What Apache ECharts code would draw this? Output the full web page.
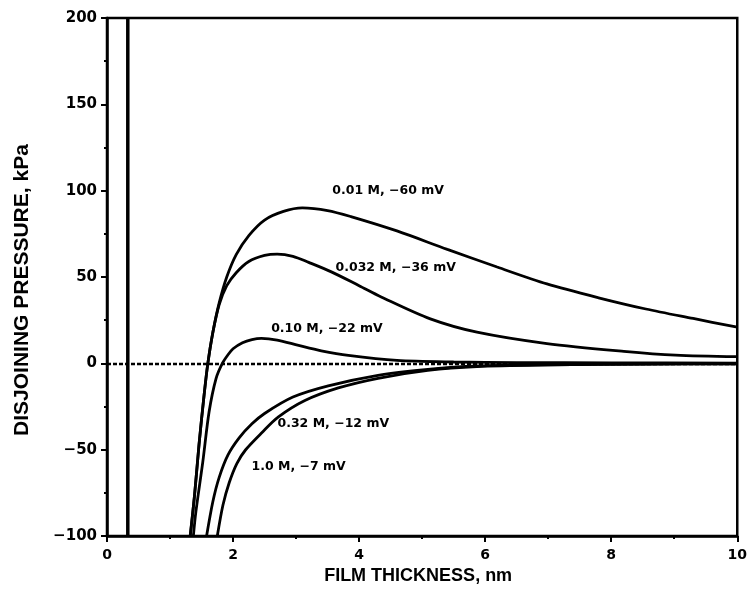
<!DOCTYPE html>
<html>
<head>
<meta charset="utf-8">
<script src="https://cdn.jsdelivr.net/npm/echarts@6/dist/echarts.min.js"></script>
<style>
  html, body { margin: 0; padding: 0; background: #fff; }
  #main { width: 750px; height: 590px; }
</style>
</head>
<body>
<div id="main"></div>
<script>
  // film thickness (nm) / disjoining pressure (kPa)
  const x001 = [1.32, 1.39, 1.46, 1.54, 1.6, 1.68, 1.78, 1.9, 2.05, 2.25, 2.5, 2.8, 3.1, 3.5, 3.87, 4.6, 5.4, 6.19, 6.98, 7.8, 8.55, 9.3, 10];
  const y001 = [-100, -76, -47, -18.5, 0, 18, 35, 50, 63, 74, 83, 88, 90, 88.5, 85, 76.7, 66, 55.8, 46, 38, 31.5, 26, 21];

  const x0032 = [1.32, 1.39, 1.46, 1.54, 1.6, 1.68, 1.78, 1.9, 2.05, 2.25, 2.5, 2.7, 2.95, 3.2, 3.56, 4.0, 4.35, 5.13, 5.87, 6.98, 8.2, 9.02, 10];
  const y0032 = [-100, -76, -47, -18.5, 0, 18, 34, 45, 52.5, 59, 62.5, 63.3, 62, 58.5, 53, 45, 38.5, 25.8, 18.1, 11.5, 7, 4.8, 3.9];

  const x010 = [1.37, 1.41, 1.52, 1.62, 1.73, 1.83, 1.92, 2.0, 2.15, 2.3, 2.45, 2.7, 3.04, 3.4, 3.83, 4.6, 5.5, 6.5, 8, 10];
  const y010 = [-100, -86, -57, -28, -8.8, 0, 5, 8.5, 12, 13.8, 14.5, 13.5, 10.4, 7.3, 4.6, 1.7, 0.8, 0.5, 0.3, 0.2];

  const x032 = [1.58, 1.68, 1.78, 1.92, 2.1, 2.3, 2.5, 2.95, 3.51, 4.3, 5.09, 5.87, 7, 8.5, 10];
  const y032 = [-100, -80, -66, -53, -43, -35, -29, -19.5, -13, -6.9, -3.5, -1.5, -0.8, -0.4, -0.2];

  const x10 = [1.75, 1.84, 1.94, 2.06, 2.2, 2.46, 2.72, 3.14, 3.67, 4.3, 5.09, 5.87, 7, 8.5, 10];
  const y10 = [-100, -82, -69, -58, -50, -40, -31, -21.5, -14.2, -8.6, -4, -1.8, -0.9, -0.4, -0.2];

  // steric wall
  const wallX = [0.33, 0.33];
  const wallY = [-100, 200];

  const labelTexts = ['0.01 M, −60 mV', '0.032 M, −36 mV', '0.10 M, −22 mV', '0.32 M, −12 mV', '1.0 M, −7 mV'];
  const labelX = [4.46, 4.58, 3.49, 3.59, 3.04];
  const labelY = [99.8, 55.6, 20, -34.8, -59.8];

  const xTicks = [0, 2, 4, 6, 8, 10];
  const yTicks = [-100, -50, 0, 50, 100, 150, 200];

  function zip(xs, ys) {
    return xs.map((x, i) => [x, ys[i]]);
  }

  const lineStyle = { color: '#000', width: 2.8 };

  function curve(name, xs, ys) {
    return {
      name: name,
      type: 'line',
      data: zip(xs, ys),
      smooth: 0.3,
      symbol: 'none',
      lineStyle: lineStyle,
      silent: true,
      z: 3
    };
  }

  const chart = echarts.init(document.getElementById('main'), null, { renderer: 'canvas' });

  const font = '"Liberation Sans", Arial, sans-serif';
  const wide = '"DejaVu Sans", sans-serif';

  const option = {
    backgroundColor: '#fff',
    animation: false,
    grid: {
      left: 107, right: 7, top: 18, bottom: 52,
      show: true, borderColor: '#000', borderWidth: 2.5
    },
    xAxis: {
      type: 'value',
      min: xTicks[0], max: xTicks[xTicks.length - 1], interval: 2,
      name: 'FILM THICKNESS, nm',
      nameLocation: 'middle',
      nameGap: 30,
      nameTextStyle: { fontFamily: font, fontWeight: 'bold', fontSize: 18, color: '#000', padding: [0, 8, 0, 0] },
      axisLine: { onZero: false, lineStyle: { color: '#000', width: 2.5 } },
      axisTick: { length: 6, lineStyle: { color: '#000', width: 2 } },
      minorTick: { show: true, splitNumber: 2, length: 3, lineStyle: { color: '#000', width: 2 } },
      splitLine: { show: false },
      axisLabel: { fontFamily: wide, fontWeight: 'bold', fontSize: 14, color: '#000', margin: 12 }
    },
    yAxis: {
      type: 'value',
      min: yTicks[0], max: yTicks[yTicks.length - 1], interval: 50,
      name: 'DISJOINING PRESSURE, kPa',
      nameLocation: 'middle',
      nameGap: 74,
      nameTextStyle: { fontFamily: font, fontWeight: 'bold', fontSize: 21, color: '#000', padding: [0, 26, 0, 0] },
      axisLine: { onZero: false, lineStyle: { color: '#000', width: 2.5 } },
      axisTick: { length: 6, lineStyle: { color: '#000', width: 2 } },
      minorTick: { show: true, splitNumber: 2, length: 3, lineStyle: { color: '#000', width: 2 } },
      splitLine: { show: false },
      axisLabel: {
        fontFamily: wide, fontWeight: 'bold', fontSize: 15, color: '#000', margin: 10,
        formatter: v => String(v).replace('-', '−')
      }
    },
    series: [
      curve('0.01 M', x001, y001),
      curve('0.032 M', x0032, y0032),
      curve('0.10 M', x010, y010),
      curve('0.32 M', x032, y032),
      curve('1.0 M', x10, y10),
      {
        name: 'wall',
        type: 'line',
        data: zip(wallX, wallY),
        symbol: 'none',
        lineStyle: { color: '#000', width: 3.5 },
        silent: true,
        markLine: {
          silent: true,
          symbol: 'none',
          label: { show: false },
          lineStyle: { color: '#000', width: 2.4, type: [4, 2] },
          data: [{ yAxis: 0 }]
        }
      },
      {
        name: 'labels',
        type: 'scatter',
        symbol: 'circle',
        symbolSize: 1,
        silent: true,
        itemStyle: { opacity: 1, color: 'rgba(0,0,0,0)' },
        data: labelTexts.map((t, i) => ({ value: [labelX[i], labelY[i]], name: t })),
        label: {
          show: true,
          position: 'inside',
          formatter: p => p.name,
          fontFamily: wide,
          fontWeight: 'bold',
          fontSize: 12.5,
          color: '#000'
        },
        z: 5
      }
    ]
  };

  chart.setOption(option);

  window.addEventListener('resize', () => {
    chart.resize();
  });
</script>
</body>
</html>
